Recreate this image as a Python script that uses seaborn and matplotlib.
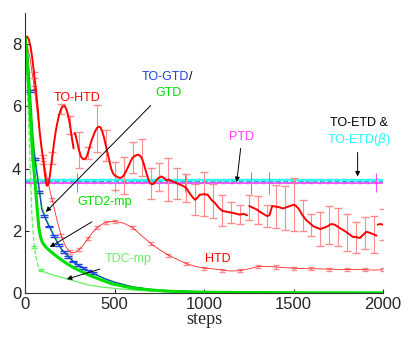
import numpy as np
import pandas as pd
import matplotlib
matplotlib.use("Agg")
import matplotlib.pyplot as plt
import seaborn as sns

# ---- data ----
# TO-HTD (thick red), NaN marks a gap in the line
to_htd_steps = [0, 10, 20, 30, 40, 50, 60, 70, 80, 90, 100, 110, 120, 130, 140, 150, 160, 170, 180, 190,
                200, 210, 220, 230, 240, 250, 260, 270, 272, 275, 280, 290, 300, 310, 320, 330, 340, 350,
                360, 370, 380, 390, 400, 410, 420, 430, 440, 450, 460, 470, 480, 490, 500, 510, 520, 530,
                540, 550, 560, 570, 580, 590, 600, 610, 620, 630, 640, 650, 660, 670, 680, 690, 700, 710,
                720, 730, 740, 750, 760, 770, 780, 790, 800, 820, 840, 860, 880, 900, 920, 940, 950, 960,
                975, 1000, 1020, 1040, 1060, 1080, 1100, 1120, 1140, 1160, 1180, 1200, 1220, 1240, 1246,
                1252, 1270, 1290, 1310, 1330, 1350, 1365, 1380, 1400, 1420, 1440, 1460, 1480, 1500, 1510,
                1530, 1550, 1570, 1590, 1610, 1630, 1650, 1670, 1690, 1710, 1730, 1750, 1770, 1790, 1810,
                1830, 1850, 1870, 1890, 1907, 1930, 1950, 1963, 1966, 1970, 1985, 2000]
to_htd_vals = [8.2, 8.25, 8.15, 7.9, 7.5, 7.0, 6.5, 5.9, 5.2, 4.7, 4.3, 3.8, 3.45, 3.5, 3.9, 4.35, 4.8, 5.2,
               5.5, 5.75, 5.92, 6.0, 6.02, 5.9, 5.7, 5.4, 5.0, 4.65, np.nan, 5.15, 5.1, 4.85, 4.6, 4.4, 4.32,
               4.3, 4.35, 4.5, 4.7, 4.9, 5.05, 5.2, 5.3, 5.35, 5.33, 5.2, 5.0, 4.75, 4.5, 4.25, 4.0, 3.85,
               3.78, 3.75, 3.72, 3.7, 3.72, 3.78, 3.88, 4.0, 4.12, 4.25, 4.35, 4.4, 4.43, 4.45, 4.42, 4.35,
               4.2, 4.0, 3.8, 3.62, 3.52, 3.5, 3.52, 3.6, 3.68, 3.72, 3.75, 3.72, 3.68, 3.62, 3.65, 3.6,
               3.55, 3.5, 3.45, 3.38, 3.2, 3.05, 3.0, 3.05, 3.16, 3.18, 3.16, 3.0, 2.9, 2.75, 2.65, 2.62,
               2.6, 2.58, 2.55, 2.52, 2.55, 2.5, np.nan, 2.8, 2.75, 2.7, 2.62, 2.55, 2.48, 2.5, 2.8, 2.78,
               2.76, 2.72, 2.76, 2.8, 2.84, 2.82, 2.7, 2.5, 2.35, 2.25, 2.15, 2.1, 2.06, 2.1, 2.15, 2.22,
               2.2, 2.12, 2.05, 1.98, 1.9, 1.81, 1.8, 1.77, 1.88, 1.97, 1.93, 1.88, 1.85, np.nan, 2.2, 2.22,
               2.2]
to_htd_err = [0.1, 0.15, 0.2, 0.15, 0.3, 0.58, 0.2, 0.75, 0.5, 0.45, 0.6, 0.5, 0.6, 0.5, 0.45, 0.7,
              0.5, 0.45, 0.5, 0.7, 0.55, 0.5, 0.35, 0.3, 0.4, 0.45, 0.35, 0.7, 0.7, 0.85, 0.5, 0.35,
              0.55, 0.6, 0.6, 0.6, 0.5, 0.5, 0.6, 0.5]

# HTD (thin red)
htd_steps = [0, 25, 50, 75, 100, 125, 150, 175, 200, 225, 250, 275, 300, 325, 350, 375, 400, 425, 450,
             475, 500, 550, 600, 650, 700, 750, 800, 850, 900, 950, 1000, 1050, 1100, 1150, 1200, 1250,
             1300, 1350, 1400, 1450, 1500, 1550, 1600, 1650, 1700, 1750, 1800, 1850, 1900, 1950, 2000]
htd_vals = [8.2, 7.6, 6.6, 5.4, 4.3, 3.6, 3.0, 2.4, 1.85, 1.5, 1.32, 1.3, 1.4, 1.55, 1.75, 1.95, 2.1,
            2.2, 2.27, 2.3, 2.3, 2.25, 2.1, 1.85, 1.6, 1.4, 1.22, 1.08, 0.95, 0.86, 0.8, 0.78, 0.74,
            0.71, 0.72, 0.78, 0.85, 0.86, 0.84, 0.82, 0.8, 0.79, 0.78, 0.78, 0.77, 0.76, 0.76, 0.76,
            0.75, 0.74, 0.75]

# TO-GTD (blue) and GTD (green, underneath)
gtd_steps = [0, 10, 20, 30, 40, 50, 64, 80, 92, 105, 120, 148, 176, 204, 243, 276, 300, 350, 400, 450,
             500, 600, 700, 800, 1000, 1500, 2000]
to_gtd_vals = [8.3, 7.8, 7.0, 6.0, 5.0, 4.4, 3.87, 3.2, 2.68, 2.5, 2.29, 1.97, 1.65, 1.39, 1.16, 0.97,
               0.88, 0.72, 0.58, 0.45, 0.35, 0.2, 0.12, 0.08, 0.04, 0.02, 0.01]
gtd_vals = [8.25, 7.9, 7.2, 6.3, 5.3, 4.6, 3.95, 3.3, 2.75, 2.55, 2.33, 2.0, 1.68, 1.41, 1.17, 0.98,
            0.89, 0.72, 0.58, 0.45, 0.35, 0.2, 0.12, 0.08, 0.04, 0.02, 0.01]

# GTD2-mp (thick green)
gtd2_steps = [0, 10, 20, 30, 40, 53, 65, 75, 85, 97, 115, 131, 160, 204, 240, 276, 320, 354, 400, 427,
              483, 550, 600, 700, 800, 900, 1000, 1200, 1500, 2000]
gtd2_vals = [8.2, 7.5, 6.5, 5.5, 4.5, 3.65, 2.8, 2.13, 1.8, 1.61, 1.48, 1.39, 1.25, 1.06, 0.92, 0.8,
             0.68, 0.58, 0.48, 0.42, 0.3, 0.22, 0.16, 0.1, 0.06, 0.04, 0.03, 0.02, 0.01, 0.01]

# TDC-mp (light green): dashed start, then solid
tdc_dash_steps = [0, 10, 20, 30, 36, 47, 55, 64, 72, 81]
tdc_dash_vals = [8.2, 6.8, 5.2, 3.6, 2.58, 1.7, 1.3, 1.06, 0.88, 0.74]
tdc_steps = [81, 120, 160, 221, 280, 354, 420, 500, 600, 700, 800, 1000, 1500, 2000]
tdc_vals = [0.74, 0.65, 0.57, 0.48, 0.38, 0.26, 0.2, 0.15, 0.1, 0.07, 0.05, 0.03, 0.01, 0.0]

# flat methods
flat_steps = [0, 2000]
ptd_vals = [3.55, 3.55]
to_etd_vals = [3.6, 3.6]
to_etd_beta_vals = [3.63, 3.63]
ptd_err_steps = [287, 500, 894, 1260, 1362, 1963]
ptd_err = [0.3, 0.3, 0.3, 0.35, 0.35, 0.3]

labels = ["TO-HTD", "HTD", "TO-GTD", "GTD", "GTD2-mp", "TDC-mp", "PTD", "TO-ETD", "TO-ETD(β)"]

RED = "#ff0000"
RED_BAR = "#ff8c8c"
BLUE = "#2040e0"
GREEN = "#00e000"
LIGHT_GREEN = "#66ee66"
MAGENTA = "#ff40ff"
CYAN = "#20ffff"
TEAL = "#20b8b8"

sns.set_style("ticks")
plt.rcParams["font.family"] = ["Liberation Sans", "DejaVu Sans"]

fig = plt.figure(figsize=(4.15, 3.54), dpi=100)
ax = fig.add_axes([0.061, 0.172, 0.862, 0.791])


def draw_line(steps, vals, **kw):
    # split at NaN so gaps stay gaps
    df = pd.DataFrame({"step": steps, "val": vals})
    seg = df["val"].isna().cumsum()
    for _, part in df.dropna().groupby(seg[df["val"].notna()]):
        sns.lineplot(data=part, x="step", y="val", estimator=None, sort=False, ax=ax, legend=False, **kw)


# flat lines with error bars
bar_steps = np.arange(25, 2001, 45)
to_etd_y = np.interp(bar_steps, flat_steps, to_etd_vals)
ax.errorbar(bar_steps, to_etd_y, yerr=0.06, fmt="none", ecolor=TEAL, elinewidth=0.6, capsize=1.5, alpha=0.8)
draw_line(flat_steps, to_etd_vals, color=TEAL, linewidth=1.0, linestyle="--")
ax.errorbar(bar_steps + 20, np.interp(bar_steps + 20, flat_steps, to_etd_beta_vals), yerr=0.05, fmt="none",
            ecolor=CYAN, elinewidth=0.6, capsize=1.5, alpha=0.8)
draw_line(flat_steps, to_etd_beta_vals, color=CYAN, linewidth=1.2)
ax.errorbar(ptd_err_steps, np.interp(ptd_err_steps, flat_steps, ptd_vals), yerr=ptd_err, fmt="none",
            ecolor=MAGENTA, elinewidth=0.7, capsize=0)
draw_line(flat_steps, ptd_vals, color=MAGENTA, linewidth=1.2)

# HTD thin red
htd_bar_steps = htd_steps[2::2]
ax.errorbar(htd_bar_steps, np.interp(htd_bar_steps, htd_steps, htd_vals), yerr=0.05, fmt="none",
            ecolor=RED_BAR, elinewidth=0.7, capsize=2.5)
draw_line(htd_steps, htd_vals, color=RED, linewidth=0.6, alpha=0.85)

# TO-HTD thick red
th_bar_steps = np.arange(50, 2001, 50)
th_known = ~np.isnan(to_htd_vals)
th_bar_y = np.interp(th_bar_steps, np.array(to_htd_steps)[th_known], np.array(to_htd_vals)[th_known])
ax.errorbar(th_bar_steps, th_bar_y, yerr=to_htd_err, fmt="none", ecolor=RED_BAR, elinewidth=0.8, capsize=3)
draw_line(to_htd_steps, to_htd_vals, color=RED, linewidth=1.4)

# TDC-mp
draw_line(tdc_dash_steps, tdc_dash_vals, color=LIGHT_GREEN, linewidth=0.9, linestyle="--")
draw_line(tdc_steps, tdc_vals, color=LIGHT_GREEN, linewidth=0.9)
ax.errorbar([48, 90], [1.48, 0.74], yerr=0.03, fmt="none", ecolor=LIGHT_GREEN, elinewidth=0.6, capsize=2.5)

# GTD / TO-GTD
draw_line(gtd_steps, gtd_vals, color=GREEN, linewidth=1.0)
gtd_bar_steps = np.arange(25, 401, 27)
ax.errorbar(gtd_bar_steps, np.interp(gtd_bar_steps, gtd_steps, to_gtd_vals), yerr=0.03, fmt="none",
            ecolor=BLUE, elinewidth=0.7, capsize=3)
draw_line(gtd_steps, to_gtd_vals, color=BLUE, linewidth=0.8)

# GTD2-mp
draw_line(gtd2_steps, gtd2_vals, color=GREEN, linewidth=2.2)

ax.set_xlim(0, 2000)
ax.set_ylim(0, 9)
ax.set_xticks([0, 500, 1000, 1500, 2000])
ax.set_yticks([0, 2, 4, 6, 8])
ax.tick_params(direction="in", length=3, labelsize=12, pad=3, width=0.8)
ax.set_xlabel("steps", fontsize=13, family="Liberation Serif", labelpad=-1)
ax.set_ylabel("")
sns.despine(ax=ax)
for s in ["left", "bottom"]:
    ax.spines[s].set_linewidth(0.8)
    ax.spines[s].set_color("#333333")

fs = 9
arrow = dict(arrowstyle="-|>", color="black", lw=0.7, mutation_scale=7, shrinkA=0, shrinkB=0)
ax.text(290, 6.26, labels[0], color=RED, fontsize=fs, ha="center", va="center")
ax.text(916, 6.94, labels[2], color=BLUE, fontsize=fs, ha="right", va="center")
ax.text(916, 6.94, "/", color="black", fontsize=fs, ha="left", va="center")
ax.text(803, 6.42, labels[3], color=GREEN, fontsize=fs, ha="center", va="center")
ax.annotate("", xy=(115, 2.61), xytext=(701, 6.03), arrowprops=arrow)
ax.text(444, 2.94, labels[4], color=GREEN, fontsize=fs, ha="center", va="center")
ax.annotate("", xy=(137, 1.48), xytext=(372, 2.29), arrowprops=arrow)
ax.text(573, 1.10, labels[5], color=LIGHT_GREEN, fontsize=fs, ha="center", va="center")
ax.annotate("", xy=(232, 0.45), xytext=(416, 0.77), arrowprops=arrow)
ax.text(1075, 1.10, labels[1], color=RED, fontsize=fs, ha="center", va="center")
ax.text(1209, 5.03, labels[6], color=MAGENTA, fontsize=fs, ha="center", va="center")
ax.annotate("", xy=(1182, 3.57), xytext=(1204, 4.65), arrowprops=arrow)
ax.text(1863, 5.48, "TO-ETD &", color="black", fontsize=fs, ha="center", va="center")
ax.text(1863, 4.94, "TO-ETD($\\beta$)", color=CYAN, fontsize=fs, ha="center", va="center")
ax.annotate("", xy=(1858, 3.75), xytext=(1858, 4.52), arrowprops=arrow)

fig.savefig("out.png", dpi=100)
